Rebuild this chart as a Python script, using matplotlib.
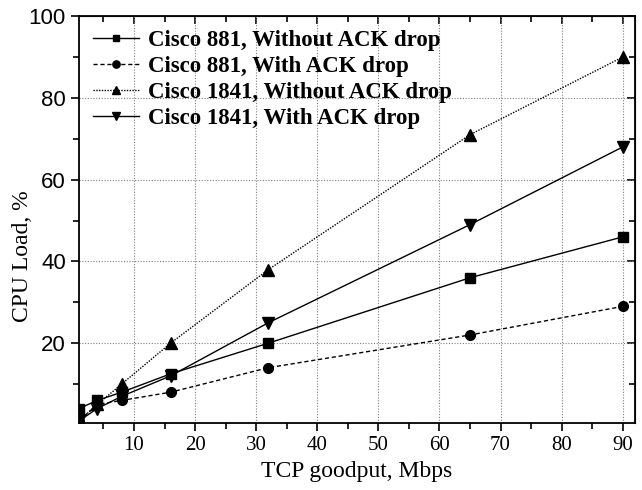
import matplotlib.pyplot as plt
from matplotlib.ticker import MultipleLocator
from matplotlib import font_manager

plt.rcParams['font.family'] = ['Liberation Serif', 'DejaVu Serif']
nombres = {f.name for f in font_manager.fontManager.ttflist}
fuente_y = 'Liberation Sans Narrow' if 'Liberation Sans Narrow' in nombres else 'Liberation Sans'

# Datos
goodput = [1, 4, 8, 16, 32, 65, 90]
c881_sin = [4, 6, 8, 12.5, 20, 36, 46]
c881_con = [1, 5, 6, 8, 14, 22, 29]
c1841_sin = [1, 5, 10, 20, 38, 71, 90]
c1841_con = [1, 4, 7, 12, 25, 49, 68]
etiquetas = ["Cisco 881, Without ACK drop", "Cisco 881, With ACK drop",
             "Cisco 1841, Without ACK drop", "Cisco 1841, With ACK drop"]
yticks = [20, 40, 60, 80, 100]

fig = plt.figure(figsize=(6.42, 4.9), dpi=100)
ax = fig.add_axes([0.123, 0.137, 0.866, 0.83])

ax.plot(goodput, c881_sin, color="black", lw=1.0, ls="-", marker="s", ms=6.5, label=etiquetas[0])
ax.plot(goodput, c881_con, color="black", lw=1.0, ls=(0, (3, 2)), marker="o", ms=7, label=etiquetas[1])
ax.plot(goodput, c1841_sin, color="black", lw=1.0, ls=(0, (1, 1)), marker="^", ms=8, label=etiquetas[2])
ax.plot(goodput, c1841_con, color="black", lw=1.0, ls="-", marker="v", ms=8, label=etiquetas[3])

ax.set_xlim(1, 92)
ax.set_ylim(0.5, 100)
ax.xaxis.set_major_locator(MultipleLocator(10))
ax.xaxis.set_minor_locator(MultipleLocator(5))
ax.set_yticks(yticks, labels=[str(v) for v in yticks], fontfamily=fuente_y, fontsize=16)
ax.yaxis.set_minor_locator(MultipleLocator(10))
ax.tick_params(axis="x", labelsize=15)
ax.tick_params(which="both", direction="out", width=1.2)
ax.tick_params(which="major", length=6)
ax.tick_params(which="minor", length=4)

# ticks hacia dentro arriba y a la derecha
arriba = ax.secondary_xaxis("top")
arriba.xaxis.set_major_locator(MultipleLocator(10))
arriba.xaxis.set_minor_locator(MultipleLocator(5))
arriba.tick_params(which="both", direction="in", labeltop=False, width=1.2)
arriba.tick_params(which="major", length=6)
arriba.tick_params(which="minor", length=4)
derecha = ax.secondary_yaxis("right")
derecha.set_yticks(yticks)
derecha.yaxis.set_minor_locator(MultipleLocator(10))
derecha.tick_params(which="both", direction="in", labelright=False, width=1.2)
derecha.tick_params(which="major", length=6)
derecha.tick_params(which="minor", length=4)

for s in ax.spines.values():
    s.set_linewidth(1.3)

ax.grid(True, which="major", color="gray", ls=(0, (1, 1.5)), lw=0.8)
ax.set_xlabel("TCP goodput, Mbps", fontsize=17)
ax.set_ylabel("CPU Load, %", fontsize=17)
ax.yaxis.set_label_coords(-0.083, 0.41)

leg = ax.legend(loc="upper left", frameon=False, prop={"weight": "bold", "size": 16.5},
                handlelength=2.0, borderaxespad=0.2, labelspacing=0.22, handletextpad=0.4,
                markerscale=0.75)

fig.savefig("out.png", dpi=100)
